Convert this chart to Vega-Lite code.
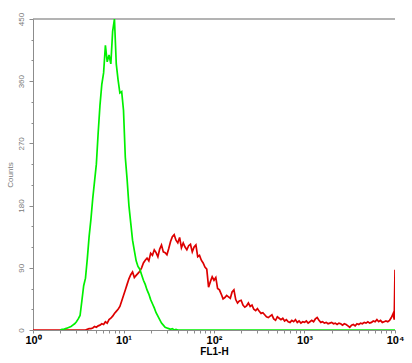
{
  "$schema": "https://vega.github.io/schema/vega-lite/v6.json",
  "width": 362,
  "height": 311,
  "autosize": {"type": "none"},
  "padding": {"left": 33, "top": 19, "right": 17, "bottom": 33},
  "background": "white",
  "config": {
    "view": {"stroke": null},
    "font": "Liberation Sans",
    "axis": {"grid": false, "domainColor": "#8c8c8c", "tickColor": "#8c8c8c", "domainWidth": 1}
  },
  "datasets": {
    "stained": [
      {"fl": 1, "count": 0}, {"fl": 3.802, "count": 0},
      {"fl": 3.981, "count": 1}, {"fl": 4.169, "count": 2}, {"fl": 4.365, "count": 2}, {"fl": 4.571, "count": 3}, {"fl": 4.786, "count": 5},
      {"fl": 5.012, "count": 4}, {"fl": 5.248, "count": 6}, {"fl": 5.495, "count": 7}, {"fl": 5.754, "count": 9}, {"fl": 6.026, "count": 8},
      {"fl": 6.31, "count": 12}, {"fl": 6.607, "count": 10}, {"fl": 6.918, "count": 15}, {"fl": 7.244, "count": 17}, {"fl": 7.586, "count": 20},
      {"fl": 7.943, "count": 24}, {"fl": 8.318, "count": 27}, {"fl": 8.71, "count": 30}, {"fl": 9.12, "count": 34}, {"fl": 9.55, "count": 42},
      {"fl": 10.0, "count": 50}, {"fl": 10.47, "count": 58}, {"fl": 10.96, "count": 66}, {"fl": 11.48, "count": 74}, {"fl": 12.02, "count": 80},
      {"fl": 12.59, "count": 84}, {"fl": 13.18, "count": 76}, {"fl": 13.8, "count": 79}, {"fl": 14.45, "count": 82}, {"fl": 15.14, "count": 85},
      {"fl": 15.85, "count": 90}, {"fl": 16.6, "count": 97}, {"fl": 17.38, "count": 101}, {"fl": 18.2, "count": 104}, {"fl": 19.05, "count": 100},
      {"fl": 19.95, "count": 111}, {"fl": 20.89, "count": 108}, {"fl": 21.88, "count": 116}, {"fl": 22.91, "count": 112}, {"fl": 23.99, "count": 106},
      {"fl": 25.12, "count": 117}, {"fl": 26.3, "count": 123}, {"fl": 27.54, "count": 113}, {"fl": 28.84, "count": 112}, {"fl": 30.2, "count": 109},
      {"fl": 31.62, "count": 118}, {"fl": 33.11, "count": 128}, {"fl": 34.67, "count": 135}, {"fl": 36.31, "count": 138}, {"fl": 38.02, "count": 130},
      {"fl": 39.81, "count": 126}, {"fl": 41.69, "count": 134}, {"fl": 43.65, "count": 119}, {"fl": 45.71, "count": 126}, {"fl": 47.86, "count": 120},
      {"fl": 50.12, "count": 116}, {"fl": 52.48, "count": 122}, {"fl": 54.95, "count": 124}, {"fl": 57.54, "count": 113}, {"fl": 60.26, "count": 120},
      {"fl": 63.1, "count": 123}, {"fl": 66.07, "count": 106}, {"fl": 69.18, "count": 108}, {"fl": 72.44, "count": 101}, {"fl": 75.86, "count": 97},
      {"fl": 79.43, "count": 91}, {"fl": 83.18, "count": 88}, {"fl": 87.1, "count": 62}, {"fl": 91.2, "count": 70}, {"fl": 95.5, "count": 77},
      {"fl": 100, "count": 72}, {"fl": 104.7, "count": 76}, {"fl": 109.6, "count": 60}, {"fl": 114.8, "count": 58}, {"fl": 120.2, "count": 52},
      {"fl": 125.9, "count": 45}, {"fl": 131.8, "count": 47}, {"fl": 138.0, "count": 50}, {"fl": 144.5, "count": 48}, {"fl": 151.4, "count": 46},
      {"fl": 158.5, "count": 55}, {"fl": 166.0, "count": 58}, {"fl": 173.8, "count": 44}, {"fl": 182.0, "count": 39}, {"fl": 190.5, "count": 42},
      {"fl": 199.5, "count": 43}, {"fl": 208.9, "count": 36}, {"fl": 218.8, "count": 33}, {"fl": 229.1, "count": 35}, {"fl": 239.9, "count": 39},
      {"fl": 251.2, "count": 34}, {"fl": 263.0, "count": 36}, {"fl": 275.4, "count": 30}, {"fl": 288.4, "count": 28}, {"fl": 302.0, "count": 31},
      {"fl": 316.2, "count": 27}, {"fl": 331.1, "count": 24}, {"fl": 346.7, "count": 25}, {"fl": 363.1, "count": 22}, {"fl": 380.2, "count": 19},
      {"fl": 398.1, "count": 18}, {"fl": 416.9, "count": 20}, {"fl": 436.5, "count": 22}, {"fl": 457.1, "count": 16}, {"fl": 478.6, "count": 14},
      {"fl": 501.2, "count": 19}, {"fl": 524.8, "count": 17}, {"fl": 549.5, "count": 15}, {"fl": 575.4, "count": 17}, {"fl": 602.6, "count": 13},
      {"fl": 631.0, "count": 15}, {"fl": 660.7, "count": 12}, {"fl": 691.8, "count": 11}, {"fl": 724.4, "count": 14}, {"fl": 758.6, "count": 12},
      {"fl": 794.3, "count": 15}, {"fl": 831.8, "count": 11}, {"fl": 871.0, "count": 13}, {"fl": 912.0, "count": 10}, {"fl": 955.0, "count": 12},
      {"fl": 1000, "count": 11}, {"fl": 1047, "count": 13}, {"fl": 1096, "count": 10}, {"fl": 1148, "count": 12}, {"fl": 1202, "count": 14},
      {"fl": 1259, "count": 12}, {"fl": 1318, "count": 16}, {"fl": 1380, "count": 18}, {"fl": 1445, "count": 14}, {"fl": 1514, "count": 11},
      {"fl": 1585, "count": 12}, {"fl": 1660, "count": 10}, {"fl": 1738, "count": 11}, {"fl": 1820, "count": 9}, {"fl": 1905, "count": 10},
      {"fl": 1995, "count": 11}, {"fl": 2089, "count": 9}, {"fl": 2188, "count": 10}, {"fl": 2291, "count": 8}, {"fl": 2399, "count": 10},
      {"fl": 2512, "count": 9}, {"fl": 2630, "count": 7}, {"fl": 2754, "count": 9}, {"fl": 2884, "count": 8}, {"fl": 3020, "count": 6},
      {"fl": 3162, "count": 4}, {"fl": 3311, "count": 7}, {"fl": 3467, "count": 8}, {"fl": 3631, "count": 6}, {"fl": 3802, "count": 9},
      {"fl": 3981, "count": 8}, {"fl": 4169, "count": 10}, {"fl": 4365, "count": 9}, {"fl": 4571, "count": 11}, {"fl": 4786, "count": 10},
      {"fl": 5012, "count": 12}, {"fl": 5248, "count": 10}, {"fl": 5495, "count": 11}, {"fl": 5754, "count": 13}, {"fl": 6026, "count": 12},
      {"fl": 6310, "count": 15}, {"fl": 6607, "count": 12}, {"fl": 6918, "count": 14}, {"fl": 7244, "count": 11}, {"fl": 7586, "count": 12},
      {"fl": 7943, "count": 13}, {"fl": 8318, "count": 12}, {"fl": 8710, "count": 14}, {"fl": 9120, "count": 18}, {"fl": 9550, "count": 24},
      {"fl": 9800, "count": 15}, {"fl": 10000, "count": 87}
    ],
    "control": [
      {"fl": 1.995, "count": 0}, {"fl": 2.089, "count": 1}, {"fl": 2.188, "count": 1}, {"fl": 2.291, "count": 2}, {"fl": 2.399, "count": 3},
      {"fl": 2.512, "count": 4}, {"fl": 2.63, "count": 5}, {"fl": 2.754, "count": 7}, {"fl": 2.884, "count": 9}, {"fl": 3.02, "count": 12},
      {"fl": 3.162, "count": 16}, {"fl": 3.311, "count": 21}, {"fl": 3.467, "count": 42}, {"fl": 3.631, "count": 64}, {"fl": 3.802, "count": 75},
      {"fl": 3.981, "count": 103}, {"fl": 4.169, "count": 135}, {"fl": 4.365, "count": 160}, {"fl": 4.571, "count": 190}, {"fl": 4.786, "count": 215},
      {"fl": 5.012, "count": 240}, {"fl": 5.248, "count": 285}, {"fl": 5.495, "count": 325}, {"fl": 5.754, "count": 355}, {"fl": 6.026, "count": 372},
      {"fl": 6.31, "count": 412}, {"fl": 6.607, "count": 388}, {"fl": 6.918, "count": 398}, {"fl": 7.244, "count": 385}, {"fl": 7.586, "count": 432},
      {"fl": 7.943, "count": 450}, {"fl": 8.318, "count": 385}, {"fl": 8.71, "count": 362}, {"fl": 9.12, "count": 343}, {"fl": 9.55, "count": 345},
      {"fl": 10.0, "count": 318}, {"fl": 10.47, "count": 250}, {"fl": 10.96, "count": 218}, {"fl": 11.48, "count": 180}, {"fl": 12.02, "count": 155},
      {"fl": 12.59, "count": 130}, {"fl": 13.18, "count": 115}, {"fl": 13.8, "count": 100}, {"fl": 14.45, "count": 92}, {"fl": 15.14, "count": 88},
      {"fl": 15.85, "count": 80}, {"fl": 16.6, "count": 72}, {"fl": 17.38, "count": 66}, {"fl": 18.2, "count": 58}, {"fl": 19.05, "count": 52},
      {"fl": 19.95, "count": 44}, {"fl": 20.89, "count": 38}, {"fl": 21.88, "count": 32}, {"fl": 22.91, "count": 25}, {"fl": 23.99, "count": 20},
      {"fl": 25.12, "count": 15}, {"fl": 26.3, "count": 10}, {"fl": 27.54, "count": 7}, {"fl": 28.84, "count": 4}, {"fl": 30.2, "count": 3},
      {"fl": 31.62, "count": 2}, {"fl": 33.11, "count": 1}, {"fl": 34.67, "count": 2}, {"fl": 36.31, "count": 0}, {"fl": 38.02, "count": 1},
      {"fl": 39.81, "count": 0}, {"fl": 10000, "count": 0}
    ]
  },
  "resolve": {"axis": {"y": "independent"}},
  "layer": [
    {
      "data": {"values": [{}]},
      "mark": {"type": "rule", "color": "#9a9a9a", "strokeWidth": 1.5},
      "encoding": {
        "y": {
          "datum": 450, "type": "quantitative",
          "scale": {"domain": [0, 450], "nice": false},
          "axis": {
            "orient": "left", "title": null, "labels": false,
            "values": [0,30,60,90,120,150,180,210,240,270,300,330,360,390,420,450],
            "tickSize": 2
          }
        }
      }
    },
    {
      "data": {"name": "stained"},
      "mark": {"type": "line", "color": "#dd0000", "strokeWidth": 1.7, "clip": true},
      "encoding": {
        "x": {
          "field": "fl", "type": "quantitative",
          "scale": {"type": "log", "domain": [1, 10000], "nice": false},
          "axis": {
            "title": "FL1-H",
            "titleFontWeight": "bold", "titleFontSize": 10, "titleColor": "black", "titlePadding": 1,
            "values": [1,2,3,4,5,6,7,8,9,10,20,30,40,50,60,70,80,90,100,200,300,400,500,600,700,800,900,1000,2000,3000,4000,5000,6000,7000,8000,9000,10000],
            "labelExpr": "indexof([1,10,100,1000,10000], datum.value) >= 0 ? '10' + ['⁰','¹','²','³','⁴'][round(log(datum.value)/LN10)] : ''",
            "labelFontWeight": "bold", "labelFontSize": 11, "labelColor": "black", "labelPadding": 1,
            "tickSize": 3, "labelFlush": false, "labelOverlap": false
          }
        },
        "y": {
          "field": "count", "type": "quantitative",
          "scale": {"domain": [0, 450], "nice": false},
          "axis": {
            "orient": "left",
            "title": "Counts", "titleFontWeight": "normal", "titleFontSize": 8, "titleColor": "#7a7a7a", "titlePadding": 3,
            "values": [0, 90, 180, 270, 360, 450],
            "labelAngle": -90, "labelAlign": "center", "labelBaseline": "bottom",
            "labelFontSize": 8, "labelColor": "#7a7a7a", "labelPadding": 4,
            "tickSize": 4, "labelFlush": false, "labelOverlap": false
          }
        }
      }
    },
    {
      "data": {"name": "control"},
      "mark": {"type": "line", "color": "#00f000", "strokeWidth": 1.7, "clip": true},
      "encoding": {
        "x": {"field": "fl", "type": "quantitative"},
        "y": {"field": "count", "type": "quantitative", "axis": null}
      }
    }
  ]
}
